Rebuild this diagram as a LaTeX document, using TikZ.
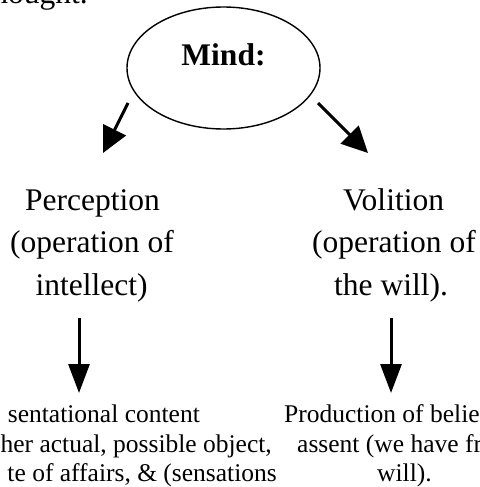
\documentclass[tikz,border=0pt]{standalone}
\usepackage{fontspec}
\setmainfont{Liberation Serif}
\usetikzlibrary{shapes.geometric,arrows.meta}
\tikzset{
  bigtxt/.style={inner sep=0pt, font=\fontsize{31.5}{36}\selectfont},
  smalltxt/.style={inner sep=0pt, font=\fontsize{25.5}{30}\selectfont},
  bigarrow/.style={line width=3pt, -{Triangle[length=26pt,width=25pt]}},
  downarrow/.style={line width=3pt, -{Triangle[length=29pt,width=21pt]}},
  mindshape/.style={ellipse, draw, line width=1.4pt, minimum width=193pt, minimum height=122pt,
    inner sep=0pt, text height=21pt, text depth=25pt, font=\fontsize{31.5}{36}\selectfont\bfseries}
}
\begin{document}
\begin{tikzpicture}[x=1pt,y=-1pt]
\useasboundingbox (0,0) rectangle (479,487);
\clip (0,0) rectangle (479,487);
\node[bigtxt, anchor=base east] (top) at (88,4) {thought.};
\node[mindshape] (mind) at (223.5,68) {Mind:};
% perception block
\node[bigtxt, anchor=base] (p1) at (92.5,210) {Perception};
\node[bigtxt, anchor=base] (p2) at (92,252.5) {(operation of};
\node[bigtxt, anchor=base] (p3) at (91.5,295) {intellect)};
% volition block
\node[bigtxt, anchor=base] (v1) at (393.5,210) {Volition};
\node[bigtxt, anchor=base] (v2) at (394,252.5) {(operation of};
\node[bigtxt, anchor=base] (v3) at (391,295) {the will).};
% bottom left
\node[smalltxt, anchor=base east] (b1) at (200,422) {sentational content};
\node[smalltxt, anchor=base east] (b2) at (272,452) {her actual, possible object,};
\node[smalltxt, anchor=base east] (b3) at (277,481) {te of affairs, \& (sensations};
% bottom right
\node[smalltxt, anchor=base west] (c1) at (284,422) {Production of belief};
\node[smalltxt, anchor=base west] (c2) at (297,452) {assent (we have free};
\node[smalltxt, anchor=base] (c3) at (404.5,481) {will).};
% arrows
\coordinate (a1s) at (128,103);
\coordinate (a1e) at (103,153);
\coordinate (a2s) at (318,103);
\coordinate (a2e) at (368,153);
\coordinate (a3s) at (79,318);
\coordinate (a3e) at (79,393);
\coordinate (a4s) at (391,318);
\coordinate (a4e) at (391,393);
\draw[bigarrow] (a1s) -- (a1e);
\draw[bigarrow] (a2s) -- (a2e);
\draw[downarrow] (a3s) -- (a3e);
\draw[downarrow] (a4s) -- (a4e);
\end{tikzpicture}
\end{document}
